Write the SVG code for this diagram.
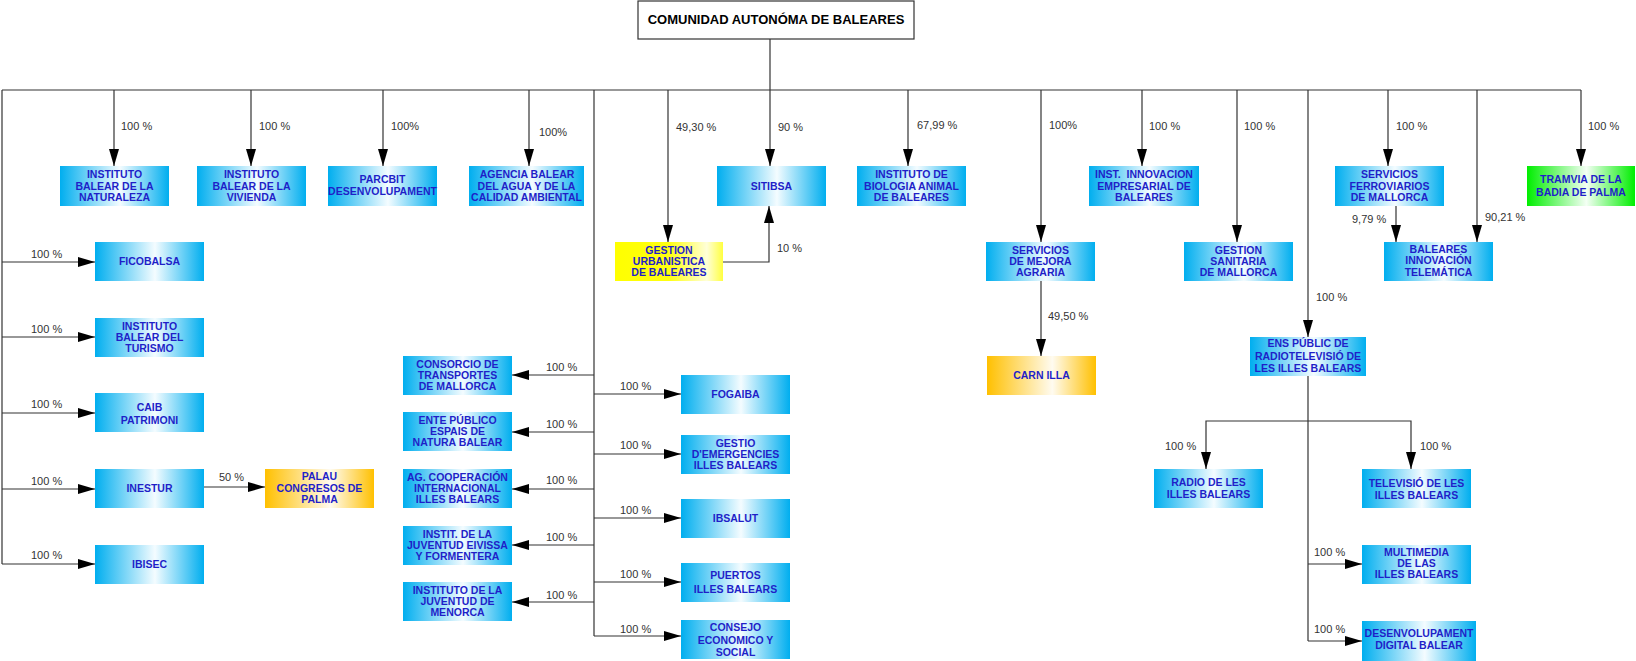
<svg xmlns="http://www.w3.org/2000/svg" width="1636" height="661" viewBox="0 0 1636 661">
<style>
.t{font-family:"Liberation Sans",Arial,sans-serif;font-weight:bold;font-size:10.5px;fill:#1f1fc8;text-anchor:middle}
.l{font-family:"Liberation Sans",Arial,sans-serif;font-size:11px;fill:#333333}
.c{fill:none;stroke:#333333;stroke-width:1.2}
.a{marker-end:url(#arr)}
.b{fill:url(#gBlue)}
.o{fill:url(#gOrange)}
.y{fill:url(#gYellow)}
.g{fill:url(#gGreen)}
.title{font-family:"Liberation Sans",Arial,sans-serif;font-weight:bold;font-size:13px;fill:#000;text-anchor:middle}
</style>
<defs>
<linearGradient id="gBlue" x1="0" y1="0" x2="1" y2="0"><stop offset="0" stop-color="#00aeef"/><stop offset="0.55" stop-color="#f4fcff"/><stop offset="1" stop-color="#00aeef"/></linearGradient>
<linearGradient id="gOrange" x1="0" y1="0" x2="1" y2="0"><stop offset="0" stop-color="#ffc000"/><stop offset="0.6" stop-color="#fffbf0"/><stop offset="1" stop-color="#ffc000"/></linearGradient>
<linearGradient id="gGreen" x1="0" y1="0" x2="1" y2="0"><stop offset="0" stop-color="#00ee00"/><stop offset="0.55" stop-color="#f4fff4"/><stop offset="1" stop-color="#00ee00"/></linearGradient>
<linearGradient id="gYellow" x1="0" y1="0" x2="1" y2="0"><stop offset="0" stop-color="#ffff00"/><stop offset="0.5" stop-color="#ffff10"/><stop offset="0.85" stop-color="#ffffd8"/><stop offset="1" stop-color="#ffff40"/></linearGradient>
<marker id="arr" markerUnits="userSpaceOnUse" markerWidth="17" markerHeight="10" refX="17" refY="5" orient="auto"><path d="M0,0 L17,5 L0,10 z" fill="#000"/></marker>
</defs>

<g id="connectors">
<path class="c" d="M2,90 H1581"/>
<path class="c a" d="M770,39 V166"/>
<path class="c" d="M2,90 V564"/>
<path class="c a" d="M114,90 V166"/>
<path class="c a" d="M251,90 V166"/>
<path class="c a" d="M383,90 V166"/>
<path class="c a" d="M529,90 V166"/>
<path class="c a" d="M908,90 V166"/>
<path class="c a" d="M1142,90 V166"/>
<path class="c a" d="M1388,90 V166"/>
<path class="c a" d="M1581,90 V166"/>
<path class="c a" d="M668,90 V242"/>
<path class="c" d="M594,90 V636"/>
<path class="c a" d="M1041,90 V242"/>
<path class="c a" d="M1041,281 V356"/>
<path class="c a" d="M1237,90 V242"/>
<path class="c a" d="M1308,90 V337"/>
<path class="c" d="M1308,376 V641"/>
<path class="c a" d="M1477,90 V242"/>
<path class="c a" d="M1396,206 V242"/>
<path class="c a" d="M723,262 H769 V206"/>
<path class="c a" d="M2,262 H95"/>
<path class="c a" d="M2,337 H95"/>
<path class="c a" d="M2,413 H95"/>
<path class="c a" d="M2,489 H95"/>
<path class="c a" d="M2,564 H95"/>
<path class="c a" d="M204,487 H265"/>
<path class="c a" d="M594,375 H512"/>
<path class="c a" d="M594,432 H512"/>
<path class="c a" d="M594,489 H512"/>
<path class="c a" d="M594,545 H512"/>
<path class="c a" d="M594,602 H512"/>
<path class="c a" d="M594,394 H681"/>
<path class="c a" d="M594,454 H681"/>
<path class="c a" d="M594,518 H681"/>
<path class="c a" d="M594,582 H681"/>
<path class="c a" d="M594,636 H681"/>
<path class="c a" d="M1308,421 H1206 V469"/>
<path class="c a" d="M1308,421 H1411 V469"/>
<path class="c a" d="M1308,564 H1362"/>
<path class="c a" d="M1308,641 H1362"/>
</g>

<g id="labels">
<text class="l" x="121" y="130">100 %</text>
<text class="l" x="259" y="130">100 %</text>
<text class="l" x="391" y="129.5">100%</text>
<text class="l" x="539" y="135.5">100%</text>
<text class="l" x="676" y="130.5">49,30 %</text>
<text class="l" x="778" y="130.5">90 %</text>
<text class="l" x="917" y="129">67,99 %</text>
<text class="l" x="1049" y="129">100%</text>
<text class="l" x="1149" y="130">100 %</text>
<text class="l" x="1244" y="130">100 %</text>
<text class="l" x="1396" y="130">100 %</text>
<text class="l" x="1588" y="130">100 %</text>
<text class="l" x="1352" y="223">9,79 %</text>
<text class="l" x="1485" y="221">90,21 %</text>
<text class="l" x="777" y="251.5">10 %</text>
<text class="l" x="1048" y="319.5">49,50 %</text>
<text class="l" x="1316" y="300.5">100 %</text>
<text class="l" x="1165" y="450">100 %</text>
<text class="l" x="1420" y="450">100 %</text>
<text class="l" x="1314" y="556">100 %</text>
<text class="l" x="1314" y="633">100 %</text>
<text class="l" x="31" y="258">100 %</text>
<text class="l" x="31" y="333">100 %</text>
<text class="l" x="31" y="408">100 %</text>
<text class="l" x="31" y="485">100 %</text>
<text class="l" x="31" y="559">100 %</text>
<text class="l" x="219" y="481">50 %</text>
<text class="l" x="546" y="370.5">100 %</text>
<text class="l" x="546" y="427.5">100 %</text>
<text class="l" x="546" y="483.5">100 %</text>
<text class="l" x="546" y="540.5">100 %</text>
<text class="l" x="546" y="598.5">100 %</text>
<text class="l" x="620" y="390">100 %</text>
<text class="l" x="620" y="449">100 %</text>
<text class="l" x="620" y="514">100 %</text>
<text class="l" x="620" y="578">100 %</text>
<text class="l" x="620" y="633">100 %</text>
</g>

<g id="n_comunidad"><rect x="638" y="1" width="276" height="38" fill="#fff" stroke="#333" stroke-width="1.2"/><text class="title" x="776" y="24">COMUNIDAD AUTONÓMA DE BALEARES</text></g>

<g id="n_naturaleza"><rect class="b" x="60" y="166" width="109" height="40"/><text class="t"><tspan x="114.5" y="178.2">INSTITUTO</tspan><tspan x="114.5" y="189.5">BALEAR DE LA</tspan><tspan x="114.5" y="200.8">NATURALEZA</tspan></text></g>
<g id="n_vivienda"><rect class="b" x="197" y="166" width="109" height="40"/><text class="t"><tspan x="251.5" y="178.2">INSTITUTO</tspan><tspan x="251.5" y="189.5">BALEAR DE LA</tspan><tspan x="251.5" y="200.8">VIVIENDA</tspan></text></g>
<g id="n_parcbit"><rect class="b" x="328" y="166" width="109" height="40"/><text class="t"><tspan x="382.5" y="183">PARCBIT</tspan><tspan x="382.5" y="194.5">DESENVOLUPAMENT</tspan></text></g>
<g id="n_agencia"><rect class="b" x="469" y="166" width="115" height="40"/><text class="t"><tspan x="527" y="178.2">AGENCIA BALEAR</tspan><tspan x="526.5" y="189.5">DEL AGUA Y DE LA</tspan><tspan x="526.5" y="200.8">CALIDAD AMBIENTAL</tspan></text></g>
<g id="n_sitibsa"><rect class="b" x="717" y="166" width="109" height="40"/><text class="t" x="771.5" y="189.8">SITIBSA</text></g>
<g id="n_biologia"><rect class="b" x="857" y="166" width="109" height="40"/><text class="t"><tspan x="911.5" y="178.2">INSTITUTO DE</tspan><tspan x="911.5" y="189.5">BIOLOGIA ANIMAL</tspan><tspan x="911.5" y="200.8">DE BALEARES</tspan></text></g>
<g id="n_innovacion"><rect class="b" x="1089" y="166" width="110" height="40"/><text class="t" xml:space="preserve"><tspan x="1144" y="178.2">INST.  INNOVACION</tspan><tspan x="1144" y="189.5">EMPRESARIAL DE</tspan><tspan x="1144" y="200.8">BALEARES</tspan></text></g>
<g id="n_ferroviarios"><rect class="b" x="1335" y="166" width="109" height="40"/><text class="t"><tspan x="1389.5" y="178.2">SERVICIOS</tspan><tspan x="1389.5" y="189.5">FERROVIARIOS</tspan><tspan x="1389.5" y="200.8">DE MALLORCA</tspan></text></g>
<g id="n_tramvia"><rect class="g" x="1527" y="166" width="108" height="40"/><text class="t"><tspan x="1581" y="183">TRAMVIA DE LA</tspan><tspan x="1581" y="196">BADIA DE PALMA</tspan></text></g>

<g id="n_urbanistica"><rect class="y" x="615" y="242" width="108" height="39"/><text class="t"><tspan x="669" y="253.7">GESTION</tspan><tspan x="669" y="265">URBANISTICA</tspan><tspan x="669" y="276.3">DE BALEARES</tspan></text></g>
<g id="n_mejora"><rect class="b" x="986" y="242" width="109" height="39"/><text class="t"><tspan x="1040.5" y="253.7">SERVICIOS</tspan><tspan x="1040.5" y="265">DE MEJORA</tspan><tspan x="1040.5" y="276.3">AGRARIA</tspan></text></g>
<g id="n_sanitaria"><rect class="b" x="1184" y="242" width="109" height="39"/><text class="t"><tspan x="1238.5" y="253.7">GESTION</tspan><tspan x="1238.5" y="265">SANITARIA</tspan><tspan x="1238.5" y="276.3">DE MALLORCA</tspan></text></g>
<g id="n_telematica"><rect class="b" x="1384" y="242" width="109" height="39"/><text class="t"><tspan x="1438.5" y="252.8">BALEARES</tspan><tspan x="1438.5" y="264.2">INNOVACIÓN</tspan><tspan x="1438.5" y="275.5">TELEMÁTICA</tspan></text></g>

<g id="n_ficobalsa"><rect class="b" x="95" y="242" width="109" height="39"/><text class="t" x="149.5" y="265.3">FICOBALSA</text></g>
<g id="n_turismo"><rect class="b" x="95" y="318" width="109" height="39"/><text class="t"><tspan x="149.5" y="329.7">INSTITUTO</tspan><tspan x="149.5" y="341">BALEAR DEL</tspan><tspan x="149.5" y="352.3">TURISMO</tspan></text></g>
<g id="n_caib"><rect class="b" x="95" y="393" width="109" height="39"/><text class="t"><tspan x="149.5" y="411">CAIB</tspan><tspan x="149.5" y="424">PATRIMONI</tspan></text></g>
<g id="n_inestur"><rect class="b" x="95" y="469" width="109" height="39"/><text class="t" x="149.5" y="492.3">INESTUR</text></g>
<g id="n_ibisec"><rect class="b" x="95" y="545" width="109" height="39"/><text class="t" x="149.5" y="568.3">IBISEC</text></g>
<g id="n_palau"><rect class="o" x="265" y="469" width="109" height="39"/><text class="t"><tspan x="319.5" y="480.3">PALAU</tspan><tspan x="319.5" y="492">CONGRESOS DE</tspan><tspan x="319.5" y="503.3">PALMA</tspan></text></g>

<g id="n_consorcio"><rect class="b" x="403" y="356" width="109" height="39"/><text class="t"><tspan x="457.5" y="367.7">CONSORCIO DE</tspan><tspan x="457.5" y="379">TRANSPORTES</tspan><tspan x="457.5" y="390.3">DE MALLORCA</tspan></text></g>
<g id="n_ente"><rect class="b" x="403" y="412" width="109" height="39"/><text class="t"><tspan x="457.5" y="423.7">ENTE PÚBLICO</tspan><tspan x="457.5" y="435">ESPAIS DE</tspan><tspan x="457.5" y="446.3">NATURA BALEAR</tspan></text></g>
<g id="n_cooperacion"><rect class="b" x="403" y="469" width="109" height="39"/><text class="t"><tspan x="457.5" y="480.7">AG. COOPERACIÓN</tspan><tspan x="457.5" y="492">INTERNACIONAL</tspan><tspan x="457.5" y="503.3">ILLES BALEARS</tspan></text></g>
<g id="n_eivissa"><rect class="b" x="403" y="526" width="109" height="39"/><text class="t"><tspan x="457.5" y="537.7">INSTIT. DE LA</tspan><tspan x="457.5" y="549">JUVENTUD EIVISSA</tspan><tspan x="457.5" y="560.3">Y FORMENTERA</tspan></text></g>
<g id="n_menorca"><rect class="b" x="403" y="582" width="109" height="39"/><text class="t"><tspan x="457.5" y="593.7">INSTITUTO DE LA</tspan><tspan x="457.5" y="605">JUVENTUD DE</tspan><tspan x="457.5" y="616.3">MENORCA</tspan></text></g>

<g id="n_fogaiba"><rect class="b" x="681" y="375" width="109" height="39"/><text class="t" x="735.5" y="398.3">FOGAIBA</text></g>
<g id="n_emergencies"><rect class="b" x="681" y="435" width="109" height="39"/><text class="t"><tspan x="735.5" y="446.7">GESTIO</tspan><tspan x="735.5" y="458">D'EMERGENCIES</tspan><tspan x="735.5" y="469.3">ILLES BALEARS</tspan></text></g>
<g id="n_ibsalut"><rect class="b" x="681" y="499" width="109" height="39"/><text class="t" x="735.5" y="522.3">IBSALUT</text></g>
<g id="n_puertos"><rect class="b" x="681" y="563" width="109" height="39"/><text class="t"><tspan x="735.5" y="578.8">PUERTOS</tspan><tspan x="735.5" y="592.8">ILLES BALEARS</tspan></text></g>
<g id="n_consejo"><rect class="b" x="681" y="620" width="109" height="39"/><text class="t"><tspan x="735.5" y="630.8">CONSEJO</tspan><tspan x="735.5" y="643.8">ECONOMICO Y</tspan><tspan x="735.5" y="656">SOCIAL</tspan></text></g>

<g id="n_carnilla"><rect class="o" x="987" y="356" width="109" height="39"/><text class="t" x="1041.5" y="379.3">CARN ILLA</text></g>
<g id="n_ens"><rect class="b" x="1250" y="337" width="116" height="39"/><text class="t"><tspan x="1308" y="347.1">ENS PÚBLIC DE</tspan><tspan x="1308" y="359.6">RADIOTELEVISIÓ DE</tspan><tspan x="1308" y="371.5">LES ILLES BALEARS</tspan></text></g>
<g id="n_radio"><rect class="b" x="1154" y="469" width="109" height="39"/><text class="t"><tspan x="1208.5" y="485.8">RADIO DE LES</tspan><tspan x="1208.5" y="497.8">ILLES BALEARS</tspan></text></g>
<g id="n_televisio"><rect class="b" x="1362" y="469" width="109" height="39"/><text class="t"><tspan x="1416.5" y="486.8">TELEVISIÓ DE LES</tspan><tspan x="1416.5" y="498.8">ILLES BALEARS</tspan></text></g>
<g id="n_multimedia"><rect class="b" x="1362" y="545" width="109" height="39"/><text class="t"><tspan x="1416.5" y="555.8">MULTIMEDIA</tspan><tspan x="1416.5" y="567.1">DE LAS</tspan><tspan x="1416.5" y="577.8">ILLES BALEARS</tspan></text></g>
<g id="n_digital"><rect class="b" x="1362" y="621" width="114" height="40"/><text class="t"><tspan x="1419" y="637.1">DESENVOLUPAMENT</tspan><tspan x="1419" y="649.1">DIGITAL BALEAR</tspan></text></g>
</svg>
